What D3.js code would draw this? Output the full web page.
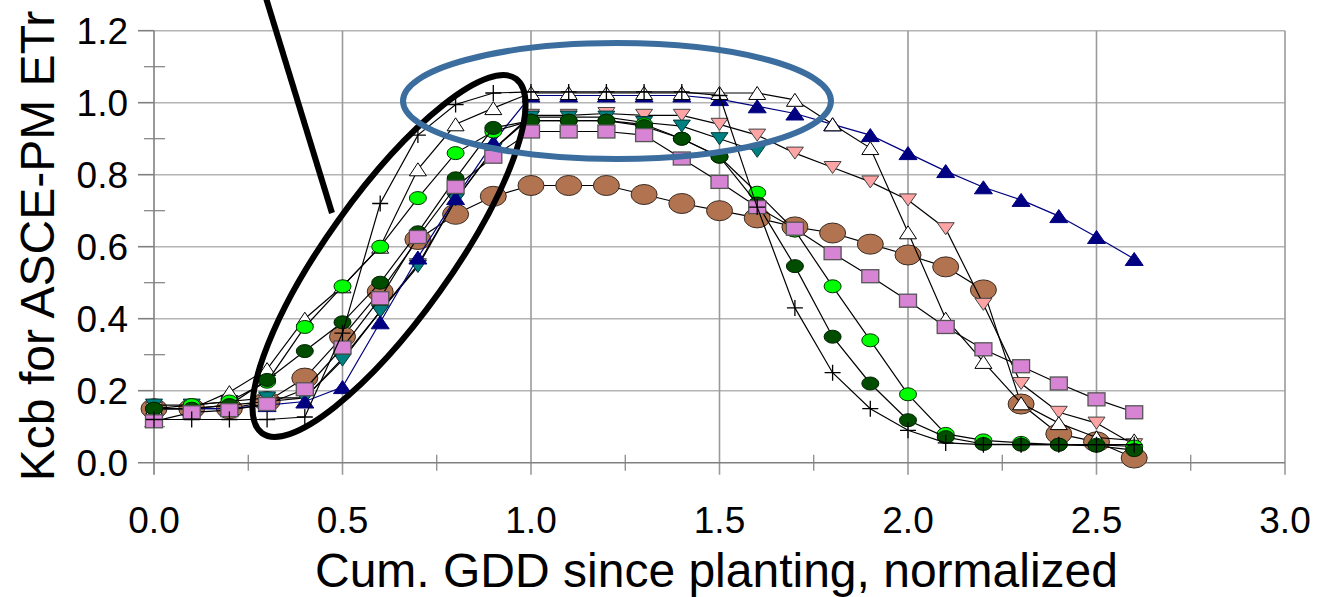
<!DOCTYPE html>
<html>
<head>
<meta charset="utf-8">
<script src="https://cdn.jsdelivr.net/npm/d3@7"></script>
<style>
  body { margin: 0; background: #fff; }
  svg { display: block; }
  text { font-family: "Liberation Sans", Arial, sans-serif; fill: #000; }
</style>
</head>
<body>
<svg id="chart" width="1317" height="597"></svg>
<script>
// Normalized cumulative GDD since planting
const gdd = [0.0, 0.1, 0.2, 0.3, 0.4, 0.5, 0.6, 0.7, 0.8, 0.9, 1.0, 1.1, 1.2, 1.3,
             1.4, 1.5, 1.6, 1.7, 1.8, 1.9, 2.0, 2.1, 2.2, 2.3, 2.4, 2.5, 2.6];

// Kcb curves (one per data set)
const kcbBrown = [0.15, 0.15, 0.15, 0.17, 0.235, 0.35, 0.475, 0.62, 0.69, 0.74, 0.77, 0.77, 0.77, 0.745,
                  0.72, 0.70, 0.68, 0.655, 0.638, 0.607, 0.577, 0.544, 0.48, 0.163, 0.08, 0.058, 0.013];
const kcbPink = [0.15, 0.15, 0.16, 0.17, 0.18, 0.29, 0.42, 0.55, 0.73, 0.87, 0.965, 0.965, 0.97, 0.965,
                 0.965, 0.94, 0.91, 0.86, 0.82, 0.78, 0.73, 0.65, 0.44, 0.22, 0.14, 0.11, 0.05];
const kcbTeal = [0.16, 0.16, 0.17, 0.18, 0.18, 0.285, 0.42, 0.545, 0.73, 0.87, 0.96, 0.96, 0.96, 0.945,
                 0.935, 0.90, 0.865];
const kcbNavy = [0.15, 0.15, 0.15, 0.16, 0.17, 0.21, 0.39, 0.57, 0.735, 0.89, 1.02, 1.02, 1.02, 1.02,
                 1.02, 1.01, 0.99, 0.97, 0.94, 0.91, 0.86, 0.81, 0.765, 0.73, 0.685, 0.627, 0.566];
const kcbWhite = [0.15, 0.15, 0.196, 0.26, 0.40, 0.49, 0.60, 0.815, 0.94, 0.985, 1.027, 1.027, 1.027, 1.027,
                  1.027, 1.027, 1.027, 1.008, 0.94, 0.874, 0.64, 0.40, 0.28, 0.165, 0.11, 0.07, 0.062];
const kcbLime = [0.15, 0.16, 0.17, 0.225, 0.377, 0.49, 0.60, 0.735, 0.86, 0.92, 0.95, 0.95, 0.95, 0.94,
                 0.90, 0.85, 0.75, 0.645, 0.49, 0.34, 0.19, 0.08, 0.062, 0.055, 0.05, 0.05, 0.045];
const kcbDarkGreen = [0.15, 0.15, 0.16, 0.23, 0.31, 0.39, 0.50, 0.64, 0.79, 0.93, 0.95, 0.95, 0.95, 0.935,
                      0.90, 0.85, 0.72, 0.546, 0.35, 0.22, 0.118, 0.071, 0.052, 0.05, 0.05, 0.047, 0.035];
const kcbSquare = [0.115, 0.14, 0.146, 0.163, 0.204, 0.32, 0.457, 0.627, 0.766, 0.85, 0.92, 0.92, 0.92, 0.91,
                   0.845, 0.78, 0.71, 0.65, 0.582, 0.518, 0.45, 0.377, 0.315, 0.268, 0.22, 0.176, 0.14];
const kcbPlus = [0.12, 0.12, 0.12, 0.12, 0.127, 0.36, 0.72, 0.91, 0.995, 1.027, 1.03, 1.03, 1.03, 1.03,
                 1.03, 1.02, 0.71, 0.43, 0.25, 0.15, 0.09, 0.055, 0.05, 0.05, 0.05, 0.05, 0.05];

// Axis ticks
const xTicks = [0.0, 0.5, 1.0, 1.5, 2.0, 2.5, 3.0];
const xMinorTicks = [0.25, 0.75, 1.25, 1.75, 2.25, 2.75];
const yTicks = [0.0, 0.2, 0.4, 0.6, 0.8, 1.0, 1.2];
const yMinorTicks = [0.1, 0.3, 0.5, 0.7, 0.9, 1.1];

const svg = d3.select("#chart");
const x = d3.scaleLinear().domain([0, 3]).range([154, 1285]);
const y = d3.scaleLinear().domain([0, 1.2]).range([462.7, 30.7]);

// Grid
const grid = svg.append("g");
grid.selectAll("line.h").data(yTicks.slice(1)).join("line")
  .attr("x1", x(0)).attr("x2", x(3))
  .attr("y1", d => y(d)).attr("y2", d => y(d))
  .attr("stroke", "#b4b4b4").attr("stroke-width", 1.6);
grid.selectAll("line.v").data(xTicks.slice(1)).join("line")
  .attr("x1", d => x(d)).attr("x2", d => x(d))
  .attr("y1", y(1.2)).attr("y2", y(0) + 12)
  .attr("stroke", "#9a9a9a").attr("stroke-width", 1.6);

// Axes
const axisColor = "#808080";
svg.append("line").attr("x1", x(0)).attr("x2", x(0)).attr("y1", y(1.2)).attr("y2", y(0) + 12)
  .attr("stroke", axisColor).attr("stroke-width", 1.6);
svg.append("line").attr("x1", x(0) - 16).attr("x2", x(3)).attr("y1", y(0)).attr("y2", y(0))
  .attr("stroke", axisColor).attr("stroke-width", 1.6);
svg.selectAll("line.ytick").data(yTicks.slice(1)).join("line")
  .attr("x1", x(0) - 16).attr("x2", x(0))
  .attr("y1", d => y(d)).attr("y2", d => y(d))
  .attr("stroke", axisColor).attr("stroke-width", 1.6);
svg.selectAll("line.yminor").data(yMinorTicks).join("line")
  .attr("x1", x(0) - 10).attr("x2", x(0) + 11)
  .attr("y1", d => y(d)).attr("y2", d => y(d))
  .attr("stroke", axisColor).attr("stroke-width", 1.2);
svg.selectAll("line.xminor").data(xMinorTicks).join("line")
  .attr("x1", d => x(d)).attr("x2", d => x(d))
  .attr("y1", y(0) - 8).attr("y2", y(0) + 8)
  .attr("stroke", axisColor).attr("stroke-width", 1.2);

// Tick labels
svg.selectAll("text.ylab").data(yTicks).join("text")
  .attr("x", 128).attr("y", d => y(d) + 13)
  .attr("text-anchor", "end").attr("font-size", 37)
  .text(d => d.toFixed(1));
svg.selectAll("text.xlab").data(xTicks).join("text")
  .attr("x", d => x(d)).attr("y", 533)
  .attr("text-anchor", "middle").attr("font-size", 37)
  .text(d => d.toFixed(1));

// Axis titles
svg.append("text").attr("x", (x(0) + x(3)) / 2 - 3).attr("y", 587)
  .attr("text-anchor", "middle").attr("font-size", 48)
  .text("Cum. GDD since planting, normalized");
svg.append("text").attr("transform", "translate(54,246) rotate(-90)")
  .attr("text-anchor", "middle").attr("font-size", 48)
  .text("Kcb for ASCE-PM ETr");

// Marker shapes
function triUp(w, h) { return `M${-w/2},${h/2}L${w/2},${h/2}L0,${-h/2}Z`; }
function triDown(w, h) { return `M${-w/2},${-h/2}L${w/2},${-h/2}L0,${h/2}Z`; }

function drawSeries(vals, opt) {
  const pts = vals.map((v, i) => [gdd[i], v]);
  const g = svg.append("g");
  g.append("path").datum(pts)
    .attr("d", d3.line().x(d => x(d[0])).y(d => y(d[1])))
    .attr("fill", "none").attr("stroke", opt.lineColor).attr("stroke-width", 1.2);
  const m = g.selectAll("g.m").data(pts).join("g")
    .attr("transform", d => `translate(${x(d[0])},${y(d[1])})`);
  if (opt.shape === "ellipse") {
    m.append("ellipse").attr("rx", opt.rx).attr("ry", opt.ry)
      .attr("fill", opt.fill).attr("stroke", opt.stroke).attr("stroke-width", 1);
  } else if (opt.shape === "square") {
    m.append("rect").attr("x", -8.5).attr("y", -6.5).attr("width", 17).attr("height", 13)
      .attr("fill", opt.fill).attr("stroke", opt.stroke).attr("stroke-width", 1.3);
  } else if (opt.shape === "up") {
    m.append("path").attr("d", triUp(opt.w, opt.h))
      .attr("fill", opt.fill).attr("stroke", opt.stroke).attr("stroke-width", 1);
  } else if (opt.shape === "down") {
    m.append("path").attr("d", triDown(opt.w, opt.h))
      .attr("fill", opt.fill).attr("stroke", opt.stroke).attr("stroke-width", 1);
  } else if (opt.shape === "plus") {
    m.append("path").attr("d", "M-8,0H8M0,-8V8")
      .attr("fill", "none").attr("stroke", opt.stroke).attr("stroke-width", 1.3);
  }
}

drawSeries(kcbBrown, { shape: "ellipse", rx: 13, ry: 10, fill: "#b27450", stroke: "#3a2a20", lineColor: "#000" });
drawSeries(kcbPink, { shape: "down", w: 17, h: 12, fill: "#ffa4a4", stroke: "#444", lineColor: "#000" });
drawSeries(kcbTeal, { shape: "down", w: 17, h: 12, fill: "#008080", stroke: "#003838", lineColor: "#000" });
drawSeries(kcbNavy, { shape: "up", w: 18, h: 13, fill: "#000080", stroke: "#000080", lineColor: "#000080" });
drawSeries(kcbWhite, { shape: "up", w: 17, h: 13, fill: "#fff", stroke: "#000", lineColor: "#000" });
drawSeries(kcbLime, { shape: "ellipse", rx: 8.5, ry: 6.5, fill: "#00ff00", stroke: "#003300", lineColor: "#000" });
drawSeries(kcbDarkGreen, { shape: "ellipse", rx: 8.5, ry: 6.5, fill: "#004d00", stroke: "#002000", lineColor: "#000" });
drawSeries(kcbSquare, { shape: "square", fill: "#d884d4", stroke: "#555", lineColor: "#000" });
drawSeries(kcbPlus, { shape: "plus", stroke: "#000", lineColor: "#000" });

// Highlight annotations
svg.append("line").attr("x1", 266).attr("y1", -2).attr("x2", 332).attr("y2", 213)
  .attr("stroke", "#000").attr("stroke-width", 6);
svg.append("ellipse").attr("cx", 389).attr("cy", 256).attr("rx", 218).attr("ry", 62)
  .attr("transform", "rotate(-54.4,389,256)")
  .attr("fill", "none").attr("stroke", "#000").attr("stroke-width", 6);
svg.append("ellipse").attr("cx", 617).attr("cy", 101).attr("rx", 214).attr("ry", 58)
  .attr("fill", "none").attr("stroke", "#3b6e9e").attr("stroke-width", 6);
</script>
</body>
</html>
